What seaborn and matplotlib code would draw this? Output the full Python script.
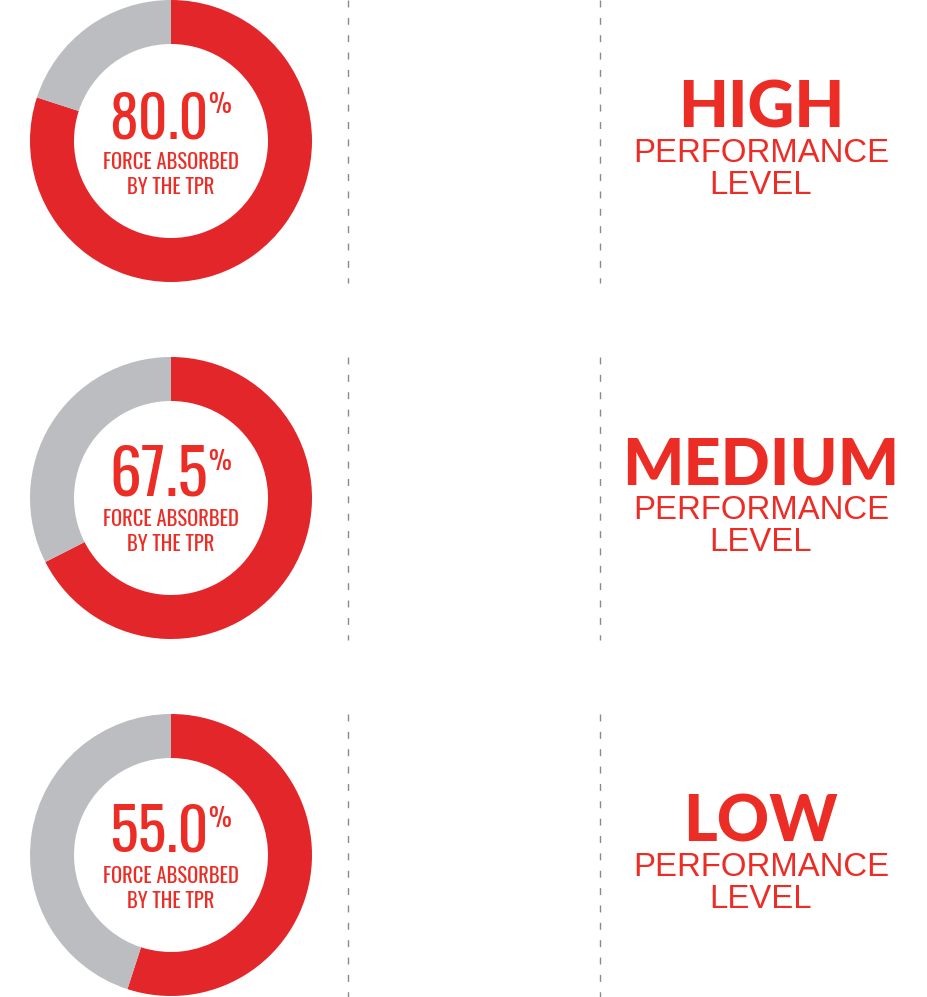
import numpy as np
import pandas as pd
import seaborn as sns
import matplotlib
matplotlib.use("Agg")
import matplotlib.pyplot as plt
from matplotlib import font_manager as fm
from matplotlib.textpath import TextPath

# ---- chart values ----
absorbed = [80.0, 67.5, 55.0]
levels = ["HIGH", "MEDIUM", "LOW"]
caption_lines = ["FORCE ABSORBED", "BY THE TPR"]
level_lines = ["PERFORMANCE", "LEVEL"]

df = pd.DataFrame({"absorbed": absorbed, "level": levels})
df["rest"] = 100 - df["absorbed"]

# ---- look ----
RED = "#e2262a"
TEXT_RED = "#ec2d26"
GREY = "#bcbdc0"
DASH = "#8a8a8a"

W, H, DPI = 928, 997, 100
ROW_TOP = [0, 357, 714]
ROW_H = 283

sns.set_theme(style="white")


def weight_num(w):
    if isinstance(w, str):
        return fm.weight_dict.get(w, 400)
    return w


def pick_font(names, weight=400, any_stretch=False):
    for n in names:
        cands = [f for f in fm.fontManager.ttflist
                 if f.name == n and f.style == "normal"
                 and (any_stretch or f.stretch == "normal")]
        if cands:
            best = min(cands, key=lambda f: abs(weight_num(f.weight) - weight))
            return fm.FontProperties(fname=best.fname)
    return fm.FontProperties(family="DejaVu Sans")


# tall condensed face for the numbers, like the original artwork
num_font = pick_font(["Oswald", "Antonio", "Pathway Gothic One", "Barlow Condensed",
                      "Roboto Condensed", "Archivo Narrow", "Liberation Sans"],
                     weight=350, any_stretch=True)
heavy_font = pick_font(["Lato", "Roboto", "Inter", "Open Sans", "Liberation Sans"], weight=900)
plain_font = pick_font(["Liberation Sans", "Arimo", "Roboto", "Inter"], weight=400)


def size_for(s, fp, cap_px, max_w=None):
    # font size in points so that cap height (and optionally ink width) fits
    cap = TextPath((0, 0), "H", prop=fp, size=1).get_extents().height
    ink = TextPath((0, 0), s, prop=fp, size=1).get_extents().width
    px = cap_px / cap
    if max_w is not None and ink * px > max_w:
        px = max_w / ink
    return px * 72 / DPI, ink * px


def put(ax, x, y, s, fp, size, **kw):
    p = fp.copy()
    p.set_size(size)
    ax.text(x, y, s, fontproperties=p, color=TEXT_RED, **kw)


fig = plt.figure(figsize=(W / DPI, H / DPI), dpi=DPI)
ax = fig.add_axes([0, 0, 1, 1])

for i, row in df.iterrows():
    y0 = ROW_TOP[i]
    cy = y0 + 141

    # donut (y axis is flipped, so start at -90 going counterclockwise in data space)
    ax.pie([row["absorbed"], row["rest"]], colors=[RED, GREY], startangle=-90,
           counterclock=True, radius=141, center=(171, cy),
           wedgeprops=dict(width=44, linewidth=0))

    # big number + percent sign, centred as a group
    num = f"{row['absorbed']:.1f}"
    n_size, n_w = size_for(num, num_font, 52, max_w=93)
    p_size, p_w = size_for("%", num_font, 23, max_w=21)
    gap = 4
    left = 171 - (n_w + gap + p_w) / 2
    put(ax, left + n_w / 2, y0 + 138, num, num_font, n_size, ha="center", va="baseline")
    put(ax, left + n_w + gap + p_w / 2, y0 + 113, "%", num_font, p_size,
        ha="center", va="baseline")

    c_size, _ = size_for(caption_lines[0], num_font, 17.5, max_w=134)
    put(ax, 171, y0 + 169, caption_lines[0], num_font, c_size, ha="center", va="baseline")
    put(ax, 171, y0 + 194, caption_lines[1], num_font, c_size, ha="center", va="baseline")

    # separators
    for x in (348, 600):
        ax.plot([x, x], [y0, y0 + ROW_H], color=DASH, lw=1.0,
                linestyle=(0, (5, 7.5)))

    # performance label
    l_size, _ = size_for(row["level"], heavy_font, 47, max_w=280)
    put(ax, 761, y0 + 127, row["level"], heavy_font, l_size, ha="center", va="baseline")
    r_size, _ = size_for(level_lines[0], plain_font, 24, max_w=252)
    put(ax, 761, y0 + 162, level_lines[0], plain_font, r_size, ha="center", va="baseline")
    put(ax, 761, y0 + 194, level_lines[1], plain_font, r_size, ha="center", va="baseline")

ax.set_xlim(0, W)
ax.set_ylim(H, 0)
ax.set_aspect("equal")
ax.axis("off")

fig.savefig("out.png", dpi=DPI, facecolor="white")
